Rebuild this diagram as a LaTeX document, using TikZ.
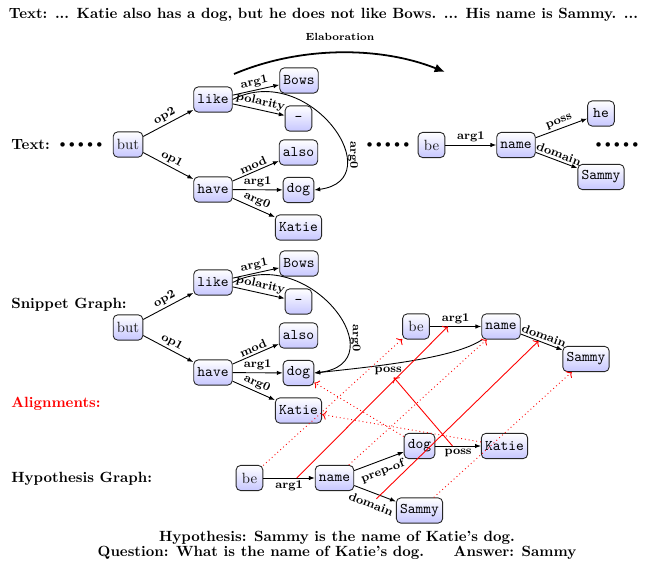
\documentclass[tikz,border=0pt]{standalone}
\usetikzlibrary{arrows.meta}
\newcommand{\mydots}{{\scriptsize$\bullet\kern0.3pt\bullet\kern0.3pt\bullet\kern0.3pt\bullet\kern0.3pt\bullet$}}
\begin{document}
\begin{tikzpicture}[x=0.6757pt, y=-0.6757pt,
  amr/.style={draw=black!85, semithick, rounded corners=3pt, top color=white, bottom color=blue!22, font=\ttfamily, minimum height=17pt, minimum width=18pt, inner xsep=2.5pt, inner ysep=2pt},
  amrrm/.style={amr, font=\rmfamily, text=black!90},
  rel/.style={semithick, -{Latex[length=4pt,width=3pt]}},
  lab/.style={font=\footnotesize\bfseries, inner sep=1.5pt},
  sec/.style={font=\bfseries, anchor=base west, inner sep=0pt},
  dotsnode/.style={inner sep=0pt},
  alignsolid/.style={red, semithick, ->},
  aligndotted/.style={red, semithick, dotted, ->},
  txt/.style={font=\bfseries, anchor=base, inner sep=0pt},
  vlab/.style={lab, rotate=-90, anchor=south}
]
\useasboundingbox (0,0) rectangle (647,563);

% headings
\node[txt] (toptext) at (323.5,19) {Text: ... Katie also has a dog, but he does not like Bows. ... His name is Sammy. ...};
\node[sec] (textlab) at (11,150) {Text:};
\node[sec] (snipl) at (11,308) {Snippet Graph:};
\node[sec, text=red] (alil) at (11,407) {Alignments:};
\node[sec] (hypl) at (11,482) {Hypothesis Graph:};
\node[txt] (hyptext) at (337,541) {Hypothesis: Sammy is the name of Katie's dog.};
\node[txt] (qtext) at (337,556) {Question: What is the name of Katie's dog.\qquad Answer: Sammy};

% ---------------- text graph
\node[dotsnode] (tdots1) at (81,145) {\mydots};
\node[amrrm] (tbut) at (128,144.5) {but};
\node[amr] (tlike) at (213,99.5) {like};
\node[amr] (thave) at (213,189.5) {have};
\node[amr] (tbows) at (299,80.5) {Bows};
\node[amr] (tneg) at (298.5,118.5) {-};
\node[amr] (talso) at (298.5,152.5) {also};
\node[amr] (tdog) at (298.5,190) {dog};
\node[amr] (tkatie) at (298.5,227.5) {Katie};
\draw[rel] (tbut) -- node[lab, sloped, above] {op2} (tlike);
\draw[rel] (tbut) -- node[lab, sloped, above] {op1} (thave);
\draw[rel] (tlike) -- node[lab, sloped, above] {arg1} (tbows);
\draw[rel] (tlike) -- node[lab, sloped, above] {polarity} (tneg);
\draw[rel] (thave) -- node[lab, sloped, above] {mod} (talso);
\draw[rel] (thave) -- node[lab, sloped, above] {arg1} (tdog);
\draw[rel] (thave) -- node[lab, sloped, above] {arg0} (tkatie);
\draw[rel] (tlike.east) .. controls (310,60) and (392,180) .. node[vlab, pos=0.68] {arg0} (tdog.east);

\node[dotsnode] (tdots2) at (388,145) {\mydots};
\node[amrrm] (tbe) at (431.5,145) {be};
\node[amr] (tname) at (516,145) {name};
\node[amr] (the) at (601,113.5) {he};
\node[amr] (tsammy) at (601,177) {Sammy};
\node[dotsnode] (tdots3) at (617,145) {\mydots};
\draw[rel] (tbe) -- node[lab, above] {arg1} (tname);
\draw[rel] (tname) -- node[lab, sloped, above] {poss} (the);
\draw[rel] (tname) -- node[lab, sloped, above] {domain} (tsammy);

\coordinate (elabA) at (234,74);
\coordinate (elabB) at (445,72);
\draw[very thick, -{Latex[length=7pt,width=6pt]}] (elabA) .. controls (300,46) and (380,46) .. node[above=4pt, font=\scriptsize\bfseries] {Elaboration} (elabB);

% ---------------- snippet graph
\node[amrrm] (sbut) at (128,327.5) {but};
\node[amr] (slike) at (213,282.5) {like};
\node[amr] (shave) at (213,372.5) {have};
\node[amr] (sbows) at (299,263.5) {Bows};
\node[amr] (sneg) at (298.5,301.5) {-};
\node[amr] (salso) at (298.5,335.5) {also};
\node[amr] (sdog) at (298.5,373) {dog};
\node[amr] (skatie) at (298.5,410.5) {Katie};
\draw[rel] (sbut) -- node[lab, sloped, above] {op2} (slike);
\draw[rel] (sbut) -- node[lab, sloped, above] {op1} (shave);
\draw[rel] (slike) -- node[lab, sloped, above] {arg1} (sbows);
\draw[rel] (slike) -- node[lab, sloped, above] {polarity} (sneg);
\draw[rel] (shave) -- node[lab, sloped, above] {mod} (salso);
\draw[rel] (shave) -- node[lab, sloped, above] {arg1} (sdog);
\draw[rel] (shave) -- node[lab, sloped, above] {arg0} (skatie);
\draw[rel] (slike.east) .. controls (310,243) and (398,363) .. node[vlab, pos=0.68] {arg0} (sdog.east);

\node[amrrm] (sbe) at (416,326.5) {be};
\node[amr] (sname) at (501,326.5) {name};
\node[amr] (ssammy) at (586,359) {Sammy};
\draw[rel] (sbe) -- node[lab, above] (sarg1) {arg1} (sname);
\draw[rel] (sname) -- node[lab, sloped, above] (sdomain) {domain} (ssammy);
\draw[rel] (sname.215) .. controls (455,358) and (380,366) .. node[lab, below, pos=0.63] (sposs) {poss} (sdog.east);

% ---------------- hypothesis graph
\node[amrrm] (hbe) at (249.5,478) {be};
\node[amr] (hname) at (334.5,478) {name};
\node[amr] (hdog) at (419.5,446) {dog};
\node[amr] (hkatie) at (504.5,446) {Katie};
\node[amr] (hsammy) at (419.5,510.5) {Sammy};
\draw[rel] (hbe) -- node[lab, below] (harg1) {arg1} (hname);
\draw[rel] (hname) -- node[lab, sloped, below=2pt] (hprep) {prep-of} (hdog);
\draw[rel] (hname) -- node[lab, sloped, below=3pt] (hdomain) {domain} (hsammy);
\draw[rel] (hdog) -- node[lab, below] (hposs) {poss} (hkatie);

% ---------------- alignments
\draw[alignsolid] (harg1) -- (sarg1);
\draw[alignsolid] (hdomain) -- (sdomain);
\draw[alignsolid] (hposs) -- (sposs);
\draw[aligndotted] (hbe) -- (sbe);
\draw[aligndotted] (hname) -- (sname);
\draw[aligndotted] (hsammy) -- (ssammy);
\draw[aligndotted] (hdog) -- (sdog);
\draw[aligndotted] (hkatie) -- (skatie);
\end{tikzpicture}
\end{document}
